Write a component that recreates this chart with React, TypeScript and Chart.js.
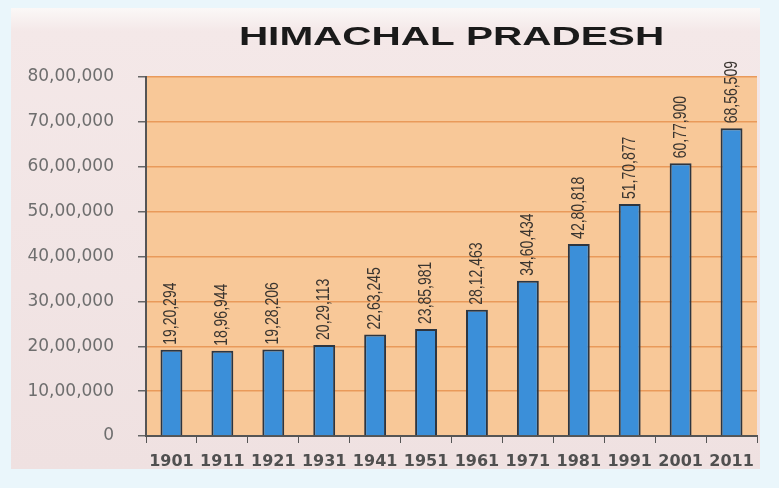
import React, { useEffect, useRef } from "react";
import { Chart, registerables } from "chart.js";

Chart.register(...registerables);

const TITLE = "HIMACHAL PRADESH";
const years = ["1901", "1911", "1921", "1931", "1941", "1951", "1961", "1971", "1981", "1991", "2001", "2011"];
const population = [1920294, 1896944, 1928206, 2029113, 2263245, 2385981, 2812463, 3460434, 4280818, 5170877, 6077900, 6856509];
const yMax = 8000000;
const yStep = 1000000;

function indian(n: number): string {
  const s = String(Math.round(n));
  if (s.length <= 3) return s;
  const last3 = s.slice(-3);
  const rest = s.slice(0, -3).replace(/\B(?=(\d{2})+(?!\d))/g, ",");
  return rest + "," + last3;
}

const bgPlugin = {
  id: "plotBg",
  beforeDraw(chart: any) {
    const { ctx, chartArea } = chart;
    ctx.save();
    ctx.fillStyle = "#f8c898";
    ctx.fillRect(chartArea.left, chartArea.top, chartArea.right - chartArea.left, chartArea.bottom - chartArea.top);
    ctx.restore();
  },
};

const titlePlugin = {
  id: "stretchTitle",
  afterDraw(chart: any) {
    const { ctx, chartArea } = chart;
    const cx = (chartArea.left + chartArea.right) / 2;
    ctx.save();
    ctx.translate(cx, 37);
    ctx.scale(1.62, 1);
    ctx.font = "bold 25px 'Liberation Sans', Arial, sans-serif";
    ctx.fillStyle = "#1a1a1a";
    ctx.textAlign = "center";
    ctx.textBaseline = "middle";
    ctx.fillText(TITLE, 0, 1);
    ctx.restore();
  },
};

const labelPlugin = {
  id: "barLabels",
  afterDatasetsDraw(chart: any) {
    const { ctx } = chart;
    const meta = chart.getDatasetMeta(0);
    const data = chart.data.datasets[0].data as number[];
    ctx.save();
    ctx.fillStyle = "#3a3530";
    ctx.font = "14px 'Liberation Sans', Arial, sans-serif";
    ctx.textAlign = "left";
    ctx.textBaseline = "middle";
    meta.data.forEach((bar: any, i: number) => {
      ctx.save();
      ctx.translate(bar.x, bar.y - 5);
      ctx.rotate(-Math.PI / 2);
      ctx.scale(1, 1.3);
      ctx.fillText(indian(data[i]), 0, 0);
      ctx.restore();
    });
    ctx.restore();
  },
};

export default function App() {
  const ref = useRef<HTMLCanvasElement | null>(null);

  useEffect(() => {
    if (!ref.current) return;
    const chart = new Chart(ref.current, {
      type: "bar",
      data: {
        labels: years,
        datasets: [
          {
            data: population,
            backgroundColor: "#3b8fd9",
            borderColor: "#2d3540",
            borderWidth: 2,
            barPercentage: 0.43,
            categoryPercentage: 1,
          },
        ],
      },
      options: {
        animation: false,
        responsive: true,
        maintainAspectRatio: false,
        layout: { padding: { top: 77, right: 22, left: 0, bottom: 0 } },
        plugins: {
          legend: { display: false },
          title: { display: false },
          tooltip: { enabled: false },
        },
        scales: {
          x: {
            afterFit: (s: any) => {
              s.height = 52;
            },
            grid: {
              drawOnChartArea: false,
              drawTicks: true,
              tickLength: 7,
              tickColor: "#555",
              offset: true,
            },
            border: { color: "#555", width: 2 },
            ticks: {
              autoSkip: false,
              maxRotation: 0,
              minRotation: 0,
              padding: 9,
              color: "#505050",
              font: { family: "'DejaVu Sans', sans-serif", size: 16, weight: "bold" },
            },
          },
          y: {
            min: 0,
            max: yMax,
            afterFit: (s: any) => {
              s.width = 146;
            },
            grid: {
              color: "#e99a5a",
              lineWidth: 1.5,
              tickColor: "#666",
              tickLength: 8,
            },
            border: { color: "#555", width: 2 },
            ticks: {
              stepSize: yStep,
              padding: 24,
              color: "#6e6e6e",
              font: { family: "'DejaVu Sans', sans-serif", size: 17, weight: "normal" },
              callback: (v: any) => indian(Number(v)),
            },
          },
        },
      },
      plugins: [bgPlugin, titlePlugin, labelPlugin],
    });
    return () => chart.destroy();
  }, []);

  return (
    <div style={{ position: "fixed", left: 0, top: 0, width: 779, height: 488, background: "#eaf6fb" }}>
      <div
        style={{
          position: "absolute",
          left: 11,
          top: 8,
          width: 749,
          height: 461,
          background: "linear-gradient(to bottom, #fbf8f7 0%, #f4e8e8 5%, #efe1e1 100%)",
        }}
      />
      <div style={{ position: "absolute", left: 0, top: 0, width: 779, height: 488 }}>
        <canvas ref={ref} />
      </div>
    </div>
  );
}
